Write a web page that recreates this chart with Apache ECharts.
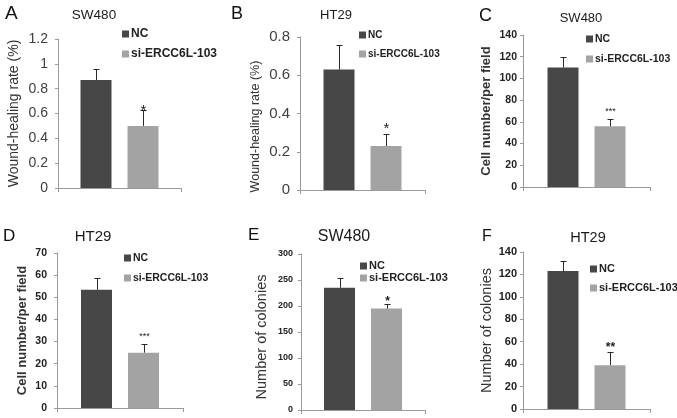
<!DOCTYPE html>
<html><head><meta charset="utf-8">
<script src="https://cdn.jsdelivr.net/npm/echarts@6/dist/echarts.min.js"></script>
<style>html,body{margin:0;padding:0;background:#fff}#c{width:677px;height:418px}</style>
</head><body><div id="c"></div>
<script>
// ---- data ----
const categories = ['NC', 'si-ERCC6L-103'];
const panelLetters = ['A', 'B', 'C', 'D', 'E', 'F'];
const cellLines = ['SW480', 'HT29', 'SW480', 'HT29', 'SW480', 'HT29'];
const yTitles = ['Wound-healing rate (%)', 'Wound-healing rate (%)', 'Cell number/per field',
                 'Cell number/per field', 'Number of colonies', 'Number of colonies'];
const ncMeans  = [0.87, 0.63, 110, 53.4, 235, 123];
const ncErrors = [0.09, 0.13, 9.5, 5.3, 18, 9];
const siMeans  = [0.50, 0.23, 56, 25, 195, 39];
const siErrors = [0.13, 0.065, 7, 3.8, 8, 12];
const significance = ['*', '*', '***', '***', '*', '**'];
const yMax  = [1.2, 0.8, 140, 70, 300, 140];
const yStep = [0.2, 0.2, 20, 10, 50, 20];

// ---- layout / style ----
const FONT = '"Liberation Sans", Arial, sans-serif';
const BAR_W = 31, BAR_GAP = 16, OFF = (BAR_W + BAR_GAP) / 2;
const L = [
  {grid:{left:58, top:39, width:123, height:149}, tick:{size:14, w:'normal', m:10, c:'#404040'}, name:{size:14, w:'normal', gap:37, pad:[0,0,0,0]}, leg:{x:122, y1:34, y2:54, size:12, sq:7}, title:{x:94, y:15, size:13.5}, letter:{x:5, y:14, size:19}, star:{size:15, w:'normal', dy:0}},
  {grid:{left:300, top:37, width:125, height:153}, tick:{size:15, w:'normal', m:10, c:'#404040'}, name:{size:12.5, w:'normal', gap:38, pad:[0,26,0,0]}, leg:{x:359, y1:35, y2:54, size:10, sq:7}, title:{x:336, y:15, size:13}, letter:{x:231, y:14, size:18}, star:{size:15, w:'normal', dy:-5.5}},
  {grid:{left:523, top:35, width:127, height:152}, tick:{size:10.5, w:'bold', m:6, c:'#222'}, name:{size:13, w:'bold', gap:30, pad:[0,0,0,0]}, leg:{x:586, y1:39, y2:59, size:10.5, sq:7}, title:{x:581, y:18, size:13}, letter:{x:479, y:16, size:18}, star:{size:9, w:'normal', dy:-8}},
  {grid:{left:57, top:253, width:126, height:155}, tick:{size:10.5, w:'bold', m:10, c:'#222'}, name:{size:13, w:'bold', gap:28, pad:[0,0,0,0]}, leg:{x:124, y1:258, y2:278, size:10.5, sq:7}, title:{x:93, y:237, size:15}, letter:{x:3, y:236, size:17}, star:{size:9, w:'normal', dy:-8}},
  {grid:{left:301, top:254, width:124, height:156}, tick:{size:9, w:'bold', m:8, c:'#222'}, name:{size:14.5, w:'normal', gap:32, pad:[0,10,0,0]}, leg:{x:360, y1:266, y2:278, size:11, sq:7}, title:{x:344, y:237, size:16}, letter:{x:248, y:235, size:17}, star:{size:12, w:'bold', dy:-2.7}},
  {grid:{left:523, top:252, width:127, height:157}, tick:{size:11, w:'bold', m:6, c:'#222'}, name:{size:14.5, w:'normal', gap:28, pad:[0,0,0,0]}, leg:{x:590, y1:269, y2:288, size:11, sq:7}, title:{x:588, y:238, size:14.5}, letter:{x:482, y:237, size:16}, star:{size:12, w:'bold', dy:-4.7}}
];
const NC_COLOR = '#474747', SI_COLOR = '#a3a3a3', AXIS_COLOR = '#9a9a9a';

const grids = [], xAxes = [], yAxes = [], series = [], legends = [], graphics = [];
for (let i = 0; i < 6; i++) {
  const s = L[i];
  grids.push(Object.assign({containLabel:false}, s.grid));
  xAxes.push({type:'category', gridIndex:i, data:['group'], boundaryGap:true,
    axisLine:{lineStyle:{color:AXIS_COLOR, width:1}},
    axisTick:{show:true, length:4, lineStyle:{color:AXIS_COLOR}},
    axisLabel:{show:false}, splitLine:{show:false}});
  yAxes.push({type:'value', gridIndex:i, min:0, max:yMax[i], interval:yStep[i],
    name:yTitles[i], nameLocation:'middle', nameGap:s.name.gap,
    nameTextStyle:{fontFamily:FONT, fontSize:s.name.size, fontWeight:s.name.w, color:'#333', padding:s.name.pad},
    axisLine:{show:true, lineStyle:{color:AXIS_COLOR, width:1}},
    axisTick:{show:true, length:3, lineStyle:{color:AXIS_COLOR}},
    axisLabel:{fontFamily:FONT, fontSize:s.tick.size, fontWeight:s.tick.w, color:s.tick.c, margin:s.tick.m},
    splitLine:{show:false}});
  series.push({type:'bar', name:categories[0], xAxisIndex:i, yAxisIndex:i, data:[ncMeans[i]],
    barWidth:BAR_W, barGap:(BAR_GAP / BAR_W * 100).toFixed(1) + '%', itemStyle:{color:NC_COLOR}, animation:false});
  series.push({type:'bar', name:categories[1], xAxisIndex:i, yAxisIndex:i, data:[siMeans[i]],
    barWidth:BAR_W, barGap:(BAR_GAP / BAR_W * 100).toFixed(1) + '%', itemStyle:{color:SI_COLOR}, animation:false});
  const sig = significance[i], st = s.star;
  series.push({type:'custom', name:'err' + i, xAxisIndex:i, yAxisIndex:i, z:5, animation:false,
    data:[[0, ncMeans[i], ncErrors[i], 0], [0, siMeans[i], siErrors[i], 1]],
    renderItem:function (params, api) {
      const side = api.value(3), mean = api.value(1), err = api.value(2);
      const base = api.coord([0, mean]);
      const top = api.coord([0, mean + err]);
      const x = Math.round(base[0] + (side ? 1 : -1) * OFF) + 0.5;
      const yt = Math.round(top[1]) + 0.5;
      const ch = [
        {type:'line', shape:{x1:x, y1:base[1], x2:x, y2:yt}, style:{stroke:'#2a2a2a', lineWidth:1}},
        {type:'line', shape:{x1:x - 3, y1:yt, x2:x + 3, y2:yt}, style:{stroke:'#2a2a2a', lineWidth:1}}
      ];
      if (side) ch.push({type:'text', style:{text:sig, x:x, y:yt + st.dy, align:'center', verticalAlign:'middle',
        font:st.w + ' ' + st.size + 'px ' + FONT, fill:'#222'}});
      return {type:'group', children:ch};
    }});
  const lh = Math.max(s.leg.size + 1, 8);
  legends.push({data:categories, orient:'vertical', left:s.leg.x, top:s.leg.y1 - lh / 2,
    itemWidth:s.leg.sq, itemHeight:s.leg.sq, itemGap:(s.leg.y2 - s.leg.y1) - lh, icon:'rect', padding:0,
    selectedMode:false,
    textStyle:{fontFamily:FONT, fontSize:s.leg.size, fontWeight:'bold', color:'#222', lineHeight:lh, padding:[0,0,0,-3]}});
  graphics.push({type:'text', style:{text:cellLines[i], x:s.title.x, y:s.title.y, align:'center', verticalAlign:'middle',
    font:'normal ' + s.title.size + 'px ' + FONT, fill:'#1a1a1a'}});
  graphics.push({type:'text', style:{text:panelLetters[i], x:s.letter.x, y:s.letter.y, align:'left', verticalAlign:'middle',
    font:'normal ' + s.letter.size + 'px ' + FONT, fill:'#111'}});
}

const chart = echarts.init(document.getElementById('c'), null, {renderer:'canvas'});
chart.setOption({
  animation:false, backgroundColor:'#fff',
  grid:grids, xAxis:xAxes, yAxis:yAxes, series:series, legend:legends, graphic:{elements:graphics}
});
</script></body></html>
